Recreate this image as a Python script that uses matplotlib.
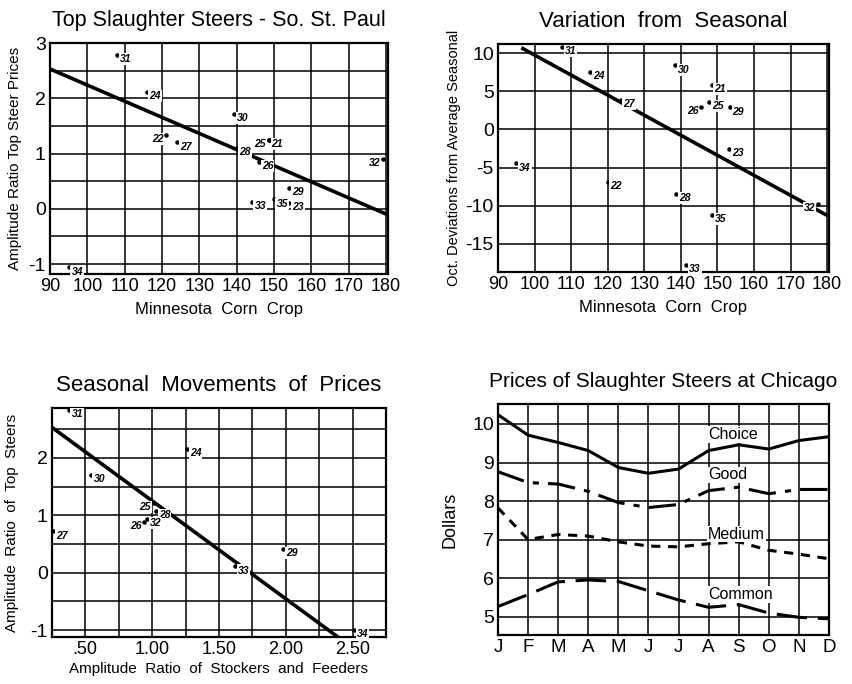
import numpy as np
import matplotlib
matplotlib.use('Agg')
import matplotlib.pyplot as plt
from matplotlib.ticker import MultipleLocator

plt.rcParams['font.family'] = ['Liberation Sans', 'DejaVu Sans']
plt.rcParams['axes.unicode_minus'] = False

# top left: amplitude ratio of top steer prices vs Minnesota corn crop
years_a = ['31', '24', '30', '22', '27', '28', '25', '21', '26', '32', '29', '33', '35', '23', '34']
corn_a = [108, 115.9, 139.3, 121.1, 124, 140, 148.6, 148.6, 146, 179.2, 154, 144, 149.9, 154.1, 95]
ratio_a = [2.78, 2.11, 1.72, 1.34, 1.2, 1.1, 1.25, 1.25, 0.85, 0.91, 0.38, 0.13, 0.17, 0.1, -1.06]
fit_a_x = [90, 180.5]
fit_a_y = [2.53, -0.11]

# top right: October deviation from seasonal vs corn crop
years_b = ['31', '24', '30', '21', '27', '26', '25', '29', '23', '34', '22', '28', '32', '35', '33']
corn_b = [107.5, 115.2, 138.5, 148.4, 123.5, 145.5, 147.7, 153.4, 153.2, 95, 120, 138.8, 177.5, 148.6, 141.5]
dev_b = [10.8, 7.55, 8.4, 5.8, 3.9, 3.0, 3.6, 2.9, -2.6, -4.45, -6.9, -8.5, -9.8, -11.2, -17.8]
fit_b_x = [96.8, 179.7]
fit_b_y = [10.6, -11.2]

# bottom left: amplitude ratio top steers vs stockers and feeders
years_c = ['31', '24', '30', '25', '28', '26', '32', '27', '29', '33', '34']
stock_c = [0.375, 1.26, 0.54, 1.01, 1.03, 0.94, 0.96, 0.26, 1.98, 1.62, 2.51]
ratio_c = [2.84, 2.16, 1.70, 1.22, 1.08, 0.88, 0.93, 0.72, 0.41, 0.11, -0.99]
fit_c_x = [0.25, 2.39]
fit_c_y = [2.53, -1.12]

# bottom right: monthly prices at Chicago
months = ['J', 'F', 'M', 'A', 'M', 'J', 'J', 'A', 'S', 'O', 'N', 'D']
choice = [10.24, 9.71, 9.52, 9.31, 8.87, 8.72, 8.83, 9.31, 9.46, 9.35, 9.57, 9.67]
good = [8.76, 8.48, 8.44, 8.25, 7.96, 7.83, 7.91, 8.27, 8.36, 8.19, 8.3, 8.3]
medium = [7.82, 7.0, 7.13, 7.09, 6.94, 6.83, 6.81, 6.89, 6.94, 6.72, 6.62, 6.5]
common = [5.26, 5.57, 5.9, 5.95, 5.91, 5.67, 5.43, 5.24, 5.31, 5.09, 4.98, 4.94]

# labels written on the left of their dot
left_a = {'22', '25', '32'}
left_b = {'26', '32'}
left_c = {'25', '26'}

fig = plt.figure(figsize=(8.52, 6.84), dpi=100)


def style_axes(ax):
    for s in ax.spines.values():
        s.set_linewidth(1.6)
    ax.grid(True, which='both', color='black', linewidth=1.1)
    ax.set_axisbelow(True)
    ax.tick_params(which='both', length=0, labelsize=13, pad=3)
    ax.tick_params(axis='y', labelsize=14)


def scatter_labels(ax, xs, ys, labels, left):
    ax.scatter(xs, ys, s=5, color='black', zorder=4, clip_on=False)
    for x, y, lab in zip(xs, ys, labels):
        if lab in left:
            off, ha = (-2, -3), 'right'
        else:
            off, ha = (2, -3), 'left'
        ax.annotate(lab, (x, y), xytext=off, textcoords='offset points',
                    ha=ha, va='center', fontsize=7.5, fontweight='bold',
                    style='italic', zorder=5,
                    bbox=dict(boxstyle='square,pad=0.1', fc='white', ec='none'))


# panel 1
ax1 = fig.add_axes([0.0587, 0.5994, 0.3967, 0.3377])
ax1.plot(fit_a_x, fit_a_y, color='black', linewidth=2.6, zorder=3)
scatter_labels(ax1, corn_a, ratio_a, years_a, left_a)
ax1.set_xlim(90, 180.5)
ax1.set_ylim(-1.18, 3)
ax1.xaxis.set_major_locator(MultipleLocator(10))
ax1.yaxis.set_major_locator(MultipleLocator(1))
ax1.yaxis.set_minor_locator(MultipleLocator(0.5))
style_axes(ax1)
ax1.set_title('Top Slaughter Steers - So. St. Paul', fontsize=15.5, pad=12)
ax1.set_xlabel('Minnesota  Corn  Crop', fontsize=12, labelpad=5)
ax1.set_ylabel('Amplitude Ratio Top Steer Prices', fontsize=11, labelpad=5)

# panel 2
ax2 = fig.add_axes([0.5845, 0.6023, 0.3885, 0.3333])
ax2.plot(fit_b_x, fit_b_y, color='black', linewidth=2.6, zorder=3)
scatter_labels(ax2, corn_b, dev_b, years_b, left_b)
ax2.set_xlim(90, 180.5)
ax2.set_ylim(-18.7, 11.2)
ax2.xaxis.set_major_locator(MultipleLocator(10))
ax2.yaxis.set_major_locator(MultipleLocator(5))
style_axes(ax2)
ax2.set_title('Variation  from  Seasonal', fontsize=16, pad=12)
ax2.set_xlabel('Minnesota  Corn  Crop', fontsize=12, labelpad=5)
ax2.set_ylabel('Oct. Deviations from Average Seasonal', fontsize=10.5, labelpad=3)

# panel 3
ax3 = fig.add_axes([0.061, 0.0687, 0.392, 0.335])
ax3.plot(fit_c_x, fit_c_y, color='black', linewidth=2.6, zorder=3)
scatter_labels(ax3, stock_c, ratio_c, years_c, left_c)
ax3.set_xlim(0.25, 2.75)
ax3.set_ylim(-1.12, 2.87)
ax3.set_xticks([0.5, 1.0, 1.5, 2.0, 2.5])
ax3.set_xticklabels(['.50', '1.00', '1.50', '2.00', '2.50'])
ax3.xaxis.set_minor_locator(MultipleLocator(0.25))
ax3.yaxis.set_major_locator(MultipleLocator(1))
ax3.yaxis.set_minor_locator(MultipleLocator(0.5))
style_axes(ax3)
ax3.set_title('Seasonal  Movements  of  Prices', fontsize=16, pad=12)
ax3.set_xlabel('Amplitude  Ratio  of  Stockers  and  Feeders', fontsize=11, labelpad=3)
ax3.set_ylabel('Amplitude  Ratio  of  Top  Steers', fontsize=11, labelpad=8)

# panel 4
ax4 = fig.add_axes([0.5845, 0.0716, 0.3885, 0.3378])
x = np.arange(len(months))
ax4.plot(x, choice, color='black', linewidth=2.2)
ax4.plot(x, good, color='black', linewidth=2.2, dashes=(9, 3, 2, 3))
ax4.plot(x, medium, color='black', linewidth=2.2, dashes=(3, 2.5))
ax4.plot(x, common, color='black', linewidth=2.2, dashes=(10, 3.5))
for name, yv in [('Choice', 9.72), ('Good', 8.68), ('Medium', 7.14), ('Common', 5.57)]:
    ax4.text(6.98, yv, name, fontsize=11.5, ha='left', va='center',
             bbox=dict(boxstyle='square,pad=0.05', fc='white', ec='none'))
ax4.set_xlim(0, 11)
ax4.set_ylim(4.52, 10.52)
ax4.set_xticks(x)
ax4.set_xticklabels(months)
ax4.yaxis.set_major_locator(MultipleLocator(1))
style_axes(ax4)
ax4.tick_params(axis='x', labelsize=13.5)
ax4.set_title('Prices of Slaughter Steers at Chicago', fontsize=15, pad=12)
ax4.set_ylabel('Dollars', fontsize=13, labelpad=10)

fig.savefig('out.png', dpi=100)
